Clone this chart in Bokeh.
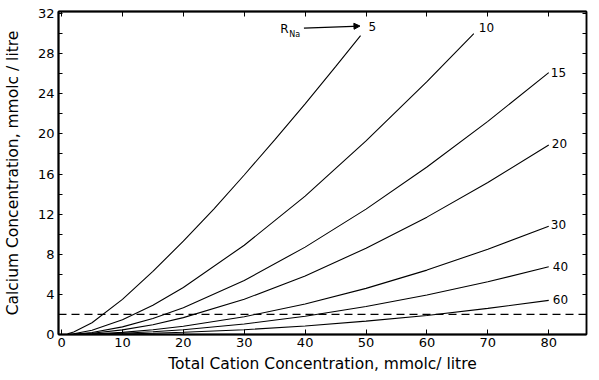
from bokeh.plotting import figure
from bokeh.models import (Range1d, LinearAxis, FixedTicker, Label, Arrow,
                          NormalHead, ColumnDataSource, Span)
from bokeh.core.properties import value
from bokeh.embed import file_html
from bokeh.resources import INLINE

# ---------------- data ----------------
# total cation concentration (mmol_c/litre) and calcium concentration (mmol_c/litre)
c_r5 = [1, 2, 5, 10, 15, 20, 25, 30, 35, 40, 45, 49.1]
ca_r5 = [0.07, 0.25, 1.17, 3.5, 6.3, 9.3, 12.5, 15.9, 19.4, 23.0, 26.7, 29.8]

c_r10 = [1, 2, 5, 10, 15, 20, 30, 40, 50, 60, 67.7]
ca_r10 = [0.02, 0.07, 0.42, 1.46, 2.92, 4.69, 8.90, 13.8, 19.3, 25.2, 30.0]

c_wide = [2, 5, 10, 15, 20, 30, 40, 50, 60, 70, 80]
ca_r15 = [0.03, 0.20, 0.76, 1.60, 2.67, 5.39, 8.71, 12.5, 16.7, 21.25, 26.1]
ca_r20 = [0.02, 0.12, 0.46, 0.98, 1.68, 3.51, 5.84, 8.6, 11.7, 15.15, 18.9]
ca_r30 = [0.01, 0.05, 0.21, 0.47, 0.82, 1.77, 3.04, 4.6, 6.42, 8.5, 10.8]
ca_r40 = [0.005, 0.03, 0.12, 0.27, 0.48, 1.05, 1.82, 2.79, 3.93, 5.25, 6.75]
ca_r60 = [0.002, 0.01, 0.05, 0.12, 0.22, 0.48, 0.85, 1.33, 1.9, 2.6, 3.4]

r_na_labels = ["5", "10", "15", "20", "30", "40", "60"]
calcium_limit = 2

x_ticks = [0, 10, 20, 30, 40, 50, 60, 70, 80]
y_ticks = [0, 4, 8, 12, 16, 20, 24, 28, 32]
y_minor = [2, 6, 10, 14, 18, 22, 26, 30]
y_all = [0, 2, 4, 6, 8, 10, 12, 14, 16, 18, 20, 22, 24, 26, 28, 30, 32]

x_title = "Total Cation Concentration, mmol\u1d04/ litre"
y_title = "Calcium Concentration, mmol\u1d04 / litre"

# ---------------- figure ----------------
FONT = "DejaVu Sans"
p = figure(width=599, height=380, output_backend="svg", toolbar_location=None,
           x_range=Range1d(-0.5, 86.2), y_range=Range1d(0, 32.2),
           x_axis_location=None, y_axis_location=None,
           min_border_left=57, min_border_right=13, min_border_top=11,
           min_border_bottom=46)
p.grid.visible = False
p.outline_line_color = "black"
p.outline_line_width = 1.5
p.background_fill_color = "white"
p.border_fill_color = "white"

bottom = LinearAxis(ticker=FixedTicker(ticks=x_ticks), major_tick_in=5,
                    major_tick_out=0, minor_tick_in=0, minor_tick_out=0,
                    axis_line_width=2, major_label_standoff=3,
                    major_label_text_font=FONT,
                    major_label_text_font_size="13px",
                    major_label_text_color="black",
                    axis_label=x_title, axis_label_standoff=5,
                    axis_label_text_font=FONT,
                    axis_label_text_font_size="15.5px",
                    axis_label_text_font_style="normal",
                    axis_label_text_color="black")
p.add_layout(bottom, "below")

left = LinearAxis(ticker=FixedTicker(ticks=y_ticks, minor_ticks=y_minor),
                  major_tick_in=4, major_tick_out=0, minor_tick_in=4,
                  minor_tick_out=0, axis_line_width=2, major_label_standoff=4,
                  major_label_text_font=FONT,
                  major_label_text_font_size="13px",
                  major_label_text_color="black",
                  axis_label=y_title, axis_label_standoff=13,
                  axis_label_text_font=FONT,
                  axis_label_text_font_size="15.5px",
                  axis_label_text_font_style="normal",
                  axis_label_text_color="black")
p.add_layout(left, "left")

top = LinearAxis(ticker=FixedTicker(ticks=[], minor_ticks=x_ticks),
                 minor_tick_in=5, minor_tick_out=0, major_tick_in=0,
                 major_tick_out=0, axis_line_width=2)
p.add_layout(top, "above")

right = LinearAxis(ticker=FixedTicker(ticks=[], minor_ticks=y_all),
                   minor_tick_in=4, minor_tick_out=0, major_tick_in=0,
                   major_tick_out=0, axis_line_width=1.5)
p.add_layout(right, "right")

# dashed limit line
p.add_layout(Span(location=calcium_limit, dimension="width",
                  line_color="black", line_width=1.3, line_dash="8 5"))

# curves
series = [(c_r5, ca_r5), (c_r10, ca_r10), (c_wide, ca_r15), (c_wide, ca_r20),
          (c_wide, ca_r30), (c_wide, ca_r40), (c_wide, ca_r60)]
for xs, ys in series:
    p.line(xs, ys, line_color="black", line_width=1.1)

# curve end labels
label_dx = [8, 5, 2, 3, 2, 4, 4]
label_dy = [-9, -6, 0, -1, -2, 0, -1]
lab_src = ColumnDataSource(dict(
    x=[s[0][-1] for s in series], y=[s[1][-1] for s in series],
    text=r_na_labels, dx=label_dx, dy=label_dy))
p.text(x="x", y="y", text="text", x_offset="dx", y_offset="dy",
       source=lab_src, text_font=value(FONT), text_font_size=value("12px"),
       text_baseline="middle", text_align="left", text_color="black")

# R_Na pointer
p.add_layout(Label(x=36.6, y=30.45, text="R", text_font=FONT,
                   text_font_size="12px", text_align="center",
                   text_baseline="middle", text_color="black"))
p.add_layout(Label(x=38.3, y=29.9, text="Na", text_font=FONT,
                   text_font_size="8px", text_align="center",
                   text_baseline="middle", text_color="black"))
p.add_layout(Arrow(end=NormalHead(size=6, fill_color="black",
                                  line_color="black"),
                   x_start=39.8, y_start=30.55, x_end=49.0, y_end=30.75,
                   line_width=1.2, line_color="black"))

open("out.html", "w").write(file_html(p, INLINE))
